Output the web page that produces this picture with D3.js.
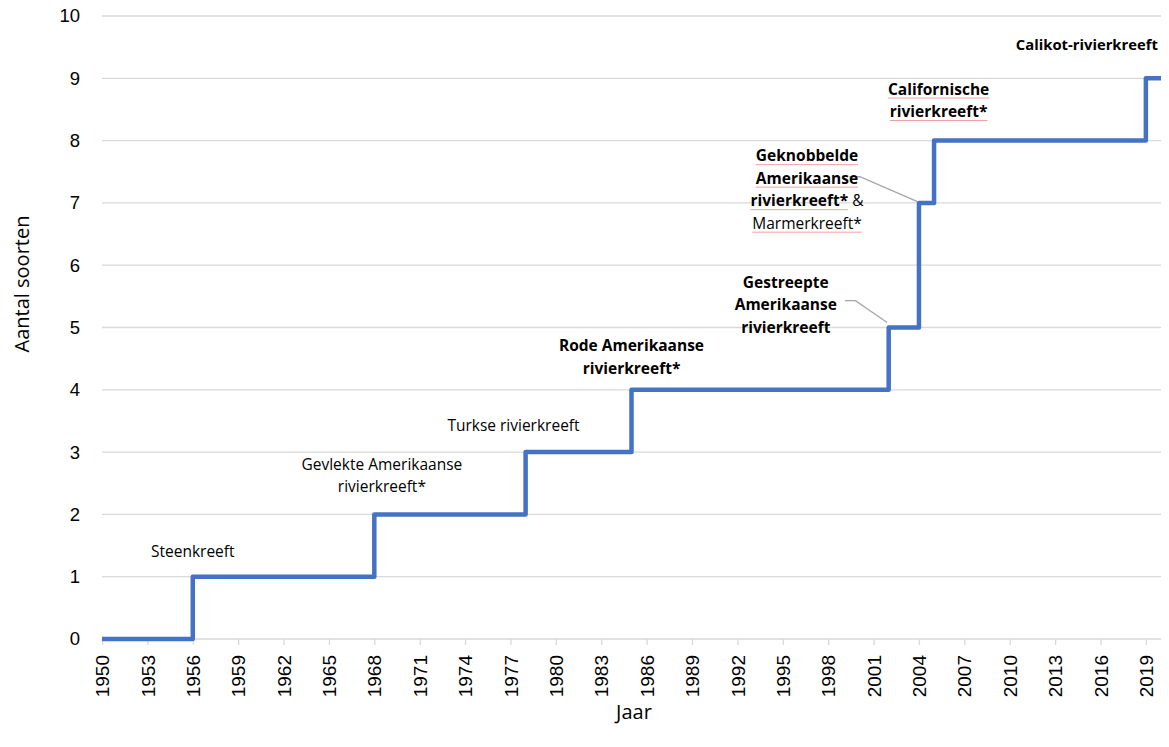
<!DOCTYPE html>
<html><head><meta charset="utf-8">
<script src="https://cdn.jsdelivr.net/npm/d3@7"></script>
<style>body{margin:0;background:#fff}svg{display:block}</style>
</head><body><svg id="c" width="1169" height="747"></svg>
<script>
const years = [1950, 1956, 1968, 1978, 1985, 2002, 2004, 2005, 2019, 2020];
const counts = [0, 1, 2, 3, 4, 5, 7, 8, 9, 9];
const yTicks = [0,1,2,3,4,5,6,7,8,9,10];
const xTicks = d3.range(1950, 2020, 3);
// annotations: lines (each line is array of [text, bold]) anchored at (year, value)
const annotations = [
  {year:1956, value:1.4, lines:[[["Steenkreeft",false]]]},
  {year:1968.5, value:2.8, lines:[[["Gevlekte Amerikaanse",false]],[["rivierkreeft*",false]]]},
  {year:1977.2, value:3.42, lines:[[["Turkse rivierkreeft",false]]]},
  {year:1985, value:4.7, lines:[[["Rode Amerikaanse",true]],[["rivierkreeft*",true]]]},
  {year:1995.2, value:5.72, lines:[[["Gestreepte",true]],[["Amerikaanse",true]],[["rivierkreeft",true]]]},
  {year:1996.6, value:7.75, lines:[[["Geknobbelde",true]],[["Amerikaanse",true]],[["rivierkreeft*",true],[" &",false]],[["Marmerkreeft*",false]]]},
  {year:2005.3, value:8.82, lines:[[["Californische",true]],[["rivierkreeft*",true]]]},
  {year:2015.1, value:9.53, size:14.8, lines:[[["Calikot-rivierkreeft",true]]]}
];
const leaders = [
  [[1999.1,5.43],[1999.8,5.43],[2001.9,5.08]],
  [[1999.4,7.42],[2000.1,7.42],[2003.9,7.02]]
];
const spellErr = ["Geknobbelde","Amerikaanse","rivierkreeft*","Marmerkreeft*","Californische"];

const svg = d3.select("#c");
const x = d3.scaleLinear().domain([1950, 2020]).range([102, 1161]);
const y = d3.scaleLinear().domain([0, 10]).range([639, 16]);

// gridlines
svg.append("g").selectAll("line").data(yTicks.slice(1)).join("line")
  .attr("x1", x(1950)).attr("x2", x(2020))
  .attr("y1", d=>y(d)).attr("y2", d=>y(d))
  .attr("stroke", "#d9d9d9").attr("stroke-width", 1.3);

// y axis labels
const ya = svg.append("g").attr("transform", `translate(${x(1950)},0)`)
  .call(d3.axisLeft(y).tickValues(yTicks).tickSize(0).tickPadding(22).tickFormat(d3.format("d")));
ya.select(".domain").remove();
ya.selectAll("text").attr("font-family","Liberation Sans, Arial, sans-serif").attr("font-size", 18.5).attr("fill","#000");

// x axis
const xa = svg.append("g").attr("transform", `translate(0,${y(0)})`)
  .call(d3.axisBottom(x).tickValues(xTicks).tickSize(6).tickFormat(d3.format("d")));
xa.select(".domain").attr("stroke","#d9d9d9").attr("stroke-width",1.3).attr("d", `M${x(1950)},0H${x(2020)}`);
xa.selectAll(".tick line").attr("stroke","#d9d9d9").attr("stroke-width",1.3);
xa.selectAll("text").attr("font-family","Liberation Sans, Arial, sans-serif").attr("font-size", 19).attr("fill","#000")
  .attr("transform","rotate(-90)").attr("text-anchor","end").attr("dy","0.35em").attr("x", -16).attr("y", 0);

// step line
const pts = years.map((d,i)=>[d, counts[i]]);
svg.append("path").datum(pts)
  .attr("d", d3.line().x(d=>x(d[0])).y(d=>y(d[1])).curve(d3.curveStepAfter))
  .attr("fill","none").attr("stroke","#4472C4").attr("stroke-width",4.5).attr("stroke-linejoin","round");

// leader lines
leaders.forEach(l=>{
  svg.append("path").attr("d", d3.line().x(d=>x(d[0])).y(d=>y(d[1]))(l))
    .attr("fill","none").attr("stroke","#a6a6a6").attr("stroke-width",1.3);
});

// annotations
const lh = 22.5;
annotations.forEach(a=>{
  a.lines.forEach((ln,i)=>{
    const t = svg.append("text").attr("x", x(a.year)).attr("y", y(a.value) + 5 + i*lh)
      .attr("text-anchor","middle").attr("font-family","'Open Sans', sans-serif").attr("font-size",a.size||15.5).attr("fill","#000");
    ln.forEach(seg=>{
      t.append("tspan").text(seg[0]).attr("font-weight", seg[1]?"bold":"normal").attr("xml:space","preserve");
    });
    // spell-check underlines
    t.selectAll("tspan").each(function(){
      const s = this.textContent.trim();
      if (spellErr.includes(s) && a.year > 1996) {
        const n = this.getNumberOfChars();
        const st = this.getStartPositionOfChar(0), en = this.getEndPositionOfChar(n-1);
        svg.append("line").attr("x1",st.x).attr("x2",en.x).attr("y1",st.y+3.5).attr("y2",st.y+3.5)
          .attr("stroke","#f4a0a0").attr("stroke-width",1);
      }
    });
  });
});

// axis titles
svg.append("text").attr("x", 634).attr("y", 719).attr("text-anchor","middle")
  .attr("font-family","'Open Sans', sans-serif").attr("font-size",20).text("Jaar");
svg.append("text").attr("transform","translate(29,284) rotate(-90)").attr("text-anchor","middle")
  .attr("font-family","'Open Sans', sans-serif").attr("font-size",20).text("Aantal soorten");
</script></body></html>
